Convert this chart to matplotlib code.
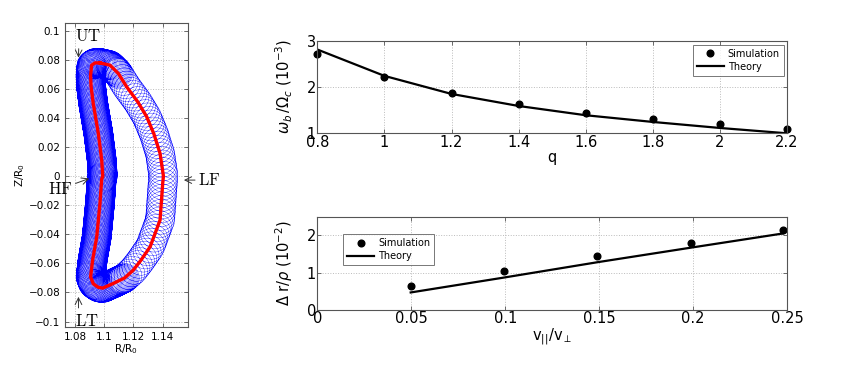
import numpy as np
import matplotlib
matplotlib.use("Agg")
import matplotlib.pyplot as plt

plt.rcParams['font.family'] = ['DejaVu Sans']
plt.rcParams['mathtext.fontset'] = 'cm'

# guiding-centre banana orbit (red), clockwise from top
orbit_R = [1.0971, 1.1040, 1.1097, 1.1154, 1.1230, 1.1291, 1.1340, 1.1382, 1.1405,
           1.1400, 1.1382, 1.1314, 1.1250, 1.1199, 1.1140, 1.1062, 1.0990, 1.0960,
           1.0925, 1.0907, 1.0921, 1.0949, 1.0971, 1.0983, 1.0990, 1.0983, 1.0960,
           1.0925, 1.0910, 1.0907, 1.0914, 1.0937, 1.0971]
orbit_Z = [0.0779, 0.0763, 0.0706, 0.0614, 0.0510, 0.0408, 0.0290, 0.0156, 0.0000,
           -0.0050, -0.0302, -0.0486, -0.0580, -0.0646, -0.0700, -0.0738, -0.0770, -0.0765,
           -0.0740, -0.0692, -0.0577, -0.0417, -0.0188, -0.0020, 0.0000, 0.0110, 0.0293,
           0.0500, 0.0620, 0.0694, 0.0763, 0.0779, 0.0779]
rho_gyro = 0.0100   # gyroradius in R0 units
n_gyro = 300        # number of gyrations along the orbit

# bounce frequency vs q
q = [0.8, 1.0, 1.2, 1.4, 1.6, 1.8, 2.0, 2.2]
wb_sim = [2.71, 2.22, 1.87, 1.63, 1.445, 1.30, 1.19, 1.10]
wb_th = [2.81, 2.24, 1.85, 1.59, 1.39, 1.245, 1.115, 1.00]

# orbit width vs v_par/v_perp
vratio = [0.0497, 0.0994, 0.149, 0.1987, 0.2477]
dr_sim = [0.64, 1.05, 1.44, 1.79, 2.14]
dr_th = [0.47, 0.87, 1.28, 1.67, 2.05]

fig = plt.figure(figsize=(8.53, 3.67), dpi=100)
spine_col = '#555555'

def style(ax, fs):
    for s in ax.spines.values():
        s.set_color(spine_col)
        s.set_linewidth(0.8)
    ax.tick_params(direction='in', length=3, width=0.6, colors=spine_col,
                   labelcolor='black', labelsize=fs, top=True, right=True)
    ax.grid(True, linestyle=':', color='#bbbbbb', linewidth=0.7)

# ---- left: orbit ----
ax0 = fig.add_axes([0.0762, 0.108, 0.1442, 0.828])
R = np.array(orbit_R)
Z = np.array(orbit_Z)
seg = np.hypot(np.diff(R), np.diff(Z))
s = np.concatenate([[0], np.cumsum(seg)])
# gyration is denser on the inner (high field) leg and at the tips
Rm = 0.5 * (R[:-1] + R[1:])
Zm = 0.5 * (Z[:-1] + Z[1:])
w = np.where((Rm < 1.105) | (np.abs(Zm) > 0.068), 3.2, 1.0)
ph = np.concatenate([[0], np.cumsum(seg * w)])
tt = np.linspace(0, s[-1], 40000)
gR = np.interp(tt, s, R)
gZ = np.interp(tt, s, Z)
phase = np.interp(tt, s, ph) / ph[-1] * 2 * np.pi * n_gyro
ax0.plot(gR + rho_gyro * np.cos(phase), gZ + rho_gyro * np.sin(phase),
         color='blue', lw=0.25)
ax0.plot(orbit_R, orbit_Z, color='red', lw=2.4, solid_joinstyle='round')
ax0.set_xlim(1.0732, 1.1573)
ax0.set_ylim(-0.104, 0.105)
ax0.set_xticks([1.08, 1.1, 1.12, 1.14])
ax0.set_xticklabels(['1.08', '1.1', '1.12', '1.14'])
ax0.set_yticks(np.round(np.arange(-0.1, 0.101, 0.02), 2))
ax0.set_yticklabels(['\u22120.1', '\u22120.08', '\u22120.06', '\u22120.04', '\u22120.02', '0',
                     '0.02', '0.04', '0.06', '0.08', '0.1'])
style(ax0, 7.5)
ax0.set_xlabel('R/R$_0$', fontsize=7.5, labelpad=0, math_fontfamily='dejavusans')
ax0.set_ylabel('Z/R$_0$', fontsize=7.5, labelpad=1, math_fontfamily='dejavusans')

ann = dict(fontsize=12, color='black')
ax0.annotate('$\\mathrm{UT}$', xy=(1.0824, 0.0815), xytext=(1.0800, 0.0905),
             ha='left', va='bottom',
             arrowprops=dict(arrowstyle='->', color='#333333', lw=0.7, shrinkA=1,
                             shrinkB=0, relpos=(0.15, 0.0)), **ann)
ax0.annotate('$\\mathrm{LT}$', xy=(1.0824, -0.083), xytext=(1.0800, -0.0935),
             ha='left', va='top',
             arrowprops=dict(arrowstyle='->', color='#333333', lw=0.7, shrinkA=1,
                             shrinkB=0, relpos=(0.15, 1.0)), **ann)
ax0.annotate('$\\mathrm{HF}$', xy=(1.0898, -0.0016), xytext=(1.0785, -0.0088),
             ha='right', va='center',
             arrowprops=dict(arrowstyle='->', color='#333333', lw=0.7, shrinkA=0,
                             shrinkB=0, relpos=(1.0, 0.75)), **ann)
ax0.annotate('$\\mathrm{LF}$', xy=(1.1545, -0.0027), xytext=(1.1640, -0.0027),
             ha='left', va='center', annotation_clip=False,
             arrowprops=dict(arrowstyle='->', color='#333333', lw=0.7, shrinkA=0,
                             shrinkB=0, relpos=(0.0, 0.5)), **ann)

# ---- top right: bounce frequency ----
ax1 = fig.add_axes([0.372, 0.6368, 0.5507, 0.2523])
ax1.plot(q, wb_sim, 'o', color='black', ms=4.8, label='Simulation', clip_on=False)
ax1.plot(q, wb_th, '-', color='black', lw=1.6, label='Theory')
ax1.set_xlim(0.8, 2.2)
ax1.set_ylim(1, 3)
ax1.set_xticks([0.8, 1.0, 1.2, 1.4, 1.6, 1.8, 2.0, 2.2])
ax1.set_xticklabels(['0.8', '1', '1.2', '1.4', '1.6', '1.8', '2', '2.2'])
ax1.set_yticks([1, 2, 3])
style(ax1, 10.5)
ax1.tick_params(pad=1)
ax1.set_xlabel('q', fontsize=10.5, labelpad=0)
ax1.set_ylabel('$\\omega_b\\,/\\Omega_c$ (10$^{-3}$)', fontsize=10.5,
               math_fontfamily='dejavusans')
ax1.yaxis.set_label_coords(-0.048, 0.5)
leg = ax1.legend(loc='upper right', fontsize=7, frameon=True, fancybox=False,
                 borderpad=0.4, handlelength=2.8, labelspacing=0.3, handletextpad=0.4,
                 borderaxespad=0, bbox_to_anchor=(0.993, 0.955))
leg.get_frame().set_edgecolor('#555555')
leg.get_frame().set_linewidth(0.7)

# ---- bottom right: orbit width ----
ax2 = fig.add_axes([0.372, 0.1553, 0.5507, 0.2542])
ax2.plot(vratio, dr_sim, 'o', color='black', ms=4.8, label='Simulation', clip_on=False)
ax2.plot(vratio, dr_th, '-', color='black', lw=1.6, label='Theory')
ax2.set_xlim(0, 0.25)
ax2.set_ylim(0, 2.5)
ax2.set_xticks([0, 0.05, 0.1, 0.15, 0.2, 0.25])
ax2.set_xticklabels(['0', '0.05', '0.1', '0.15', '0.2', '0.25'])
ax2.set_yticks([0, 1, 2])
style(ax2, 10.5)
ax2.tick_params(pad=1)
ax2.set_xlabel('v$_{||}$/v$_{\\perp}$', fontsize=10.5, labelpad=0,
               math_fontfamily='dejavusans')
ax2.set_ylabel('$\\Delta$ r/$\\rho$ (10$^{-2}$)', fontsize=10.5,
               math_fontfamily='dejavusans')
ax2.yaxis.set_label_coords(-0.048, 0.5)
leg2 = ax2.legend(loc='upper left', fontsize=7, frameon=True, fancybox=False,
                  borderpad=0.4, handlelength=2.8, labelspacing=0.3, handletextpad=0.4,
                  borderaxespad=0, bbox_to_anchor=(0.055, 0.81))
leg2.get_frame().set_edgecolor('#555555')
leg2.get_frame().set_linewidth(0.7)

fig.savefig('out.png', dpi=100)
